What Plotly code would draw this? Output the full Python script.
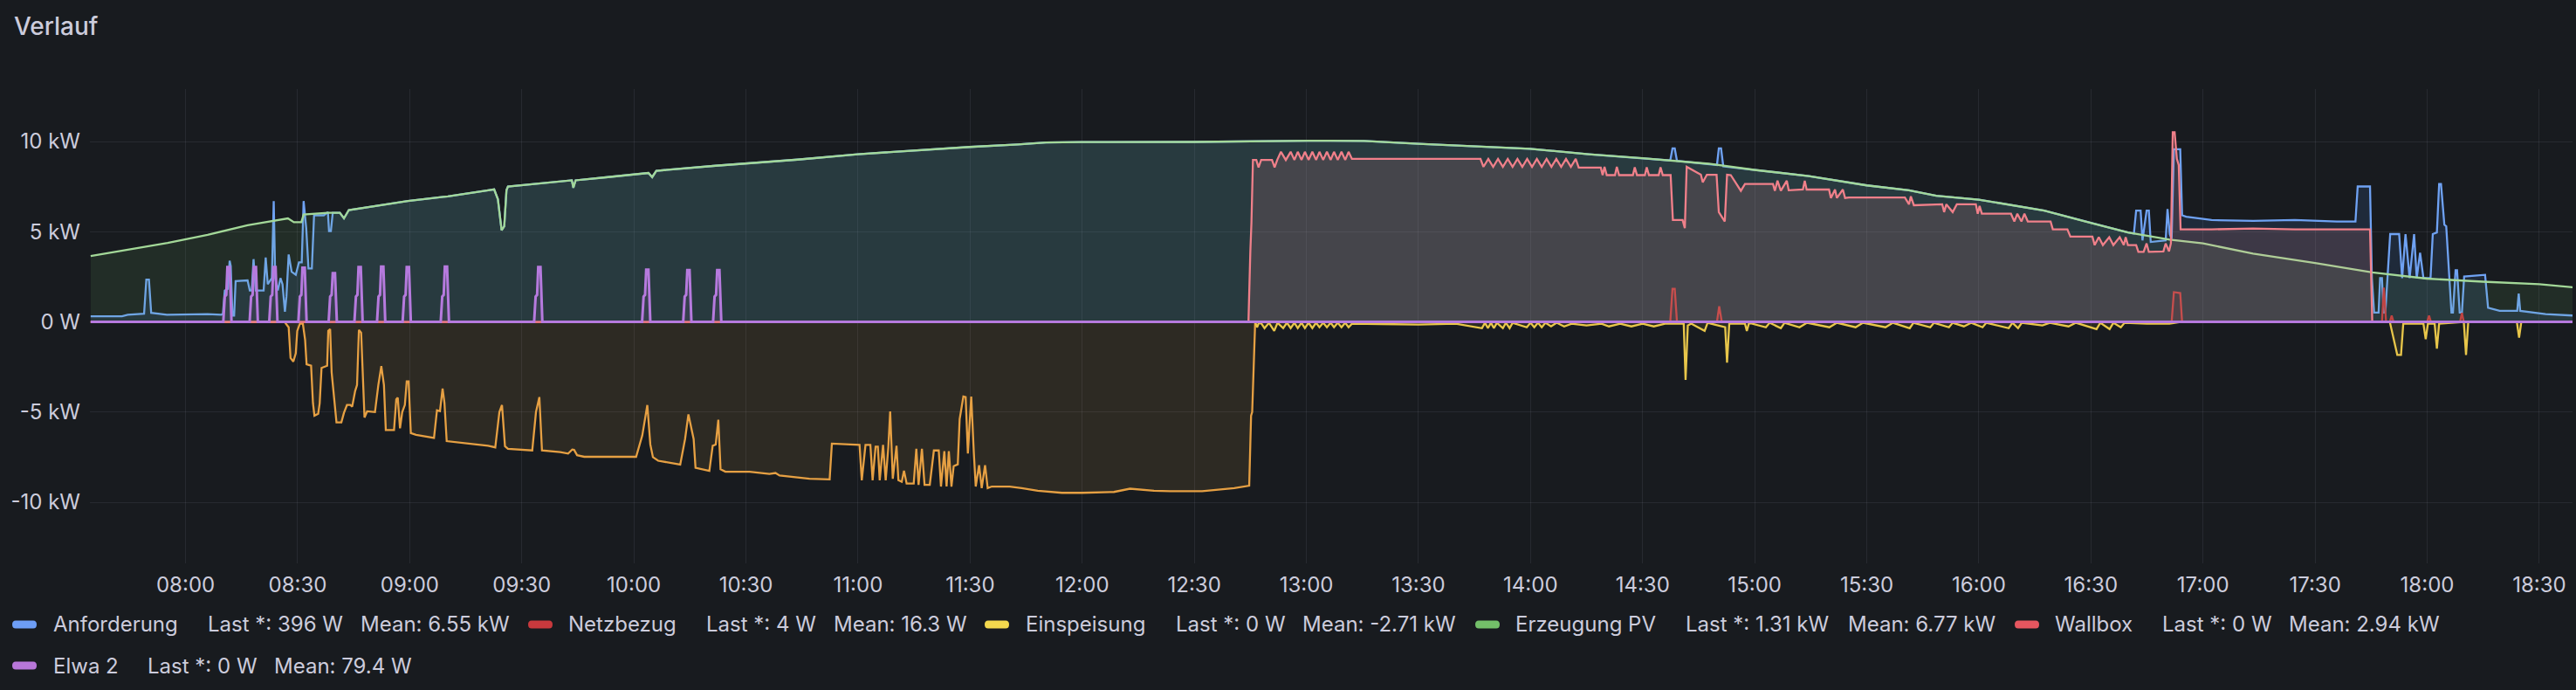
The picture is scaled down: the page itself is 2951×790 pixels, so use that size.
#!/usr/bin/env python
# coding: utf-8

import pandas as pd
import plotly.graph_objects as go

DAY = "2024-06-15"

# every series: (minutes after 08:00, kW)
anforderung = [
    (-25.4, 0.31), (-17.0, 0.31), (-15.5, 0.40), (-11.9, 0.43), (-11.1, 0.45), (-10.5, 2.35),
    (-9.8, 2.35), (-9.2, 0.50), (-5.0, 0.40), (5.9, 0.43), (9.6, 0.40), (10.0, 0.45),
    (10.5, 1.74), (11.3, 1.83), (11.8, 3.39), (12.1, 3.10), (12.55, 0.35), (13.0, 0.35),
    (13.4, 2.26), (16.6, 2.30), (17.2, 1.74), (17.7, 1.74), (18.2, 3.48), (18.8, 1.74),
    (20.9, 1.74), (21.45, 3.57), (22.0, 2.09), (23.1, 2.43), (23.6, 6.70), (24.0, 2.43),
    (24.7, 1.74), (25.4, 2.43), (25.95, 2.09), (26.6, 0.56), (27.0, 1.40), (27.6, 3.74),
    (28.4, 2.78), (29.5, 2.61), (30.35, 3.30), (31.1, 3.30), (31.6, 6.70), (32.3, 5.20),
    (32.9, 2.96), (33.8, 2.96), (34.4, 5.91), (37.0, 5.91), (38.1, 6.09), (38.4, 5.04),
    (38.9, 5.04), (39.4, 6.05), (41.3, 6.05), (42.4, 5.74), (43.7, 6.20), (59.5, 6.70),
    (70.2, 6.96), (81.0, 7.30), (82.6, 7.35), (83.6, 6.80), (84.6, 5.08), (85.3, 5.30),
    (85.9, 7.30), (86.3, 7.51), (102.4, 7.83), (103.4, 7.85), (103.8, 7.44), (104.4, 7.85),
    (113.1, 8.03), (123.9, 8.26), (124.9, 8.03), (126.0, 8.38), (141.9, 8.66), (150.0, 8.78),
    (163.8, 9.00), (179.9, 9.30), (196.0, 9.53), (209.9, 9.70), (222.8, 9.84), (230.3, 9.95),
    (239.7, 9.97), (270.0, 9.98), (300.5, 10.05), (315.5, 10.03), (330.0, 9.88), (343.4, 9.77),
    (359.9, 9.60), (375.6, 9.30), (390.0, 9.08), (397.4, 8.95), (398.0, 9.62), (398.6, 9.62),
    (399.2, 8.93), (407.7, 8.77), (409.9, 8.70), (410.4, 9.62), (411.0, 9.62), (411.6, 8.62),
    (419.9, 8.43), (434.5, 8.09), (450.0, 7.57), (461.3, 7.30), (468.6, 6.99), (480.0, 6.78),
    (497.5, 6.17), (510.1, 5.48), (519.9, 4.96), (521.5, 4.90), (522.1, 6.17), (523.3, 6.17),
    (523.8, 4.52), (524.9, 6.17), (525.5, 6.17), (526.0, 4.43), (530.0, 4.52), (530.5, 6.26),
    (531.1, 4.87), (531.6, 4.60), (532.2, 9.57), (533.9, 9.57), (534.4, 5.91), (535.5, 5.83),
    (542.3, 5.65), (553.4, 5.60), (564.6, 5.65), (575.8, 5.57), (580.8, 5.57), (581.4, 7.51),
    (584.7, 7.51), (585.2, 2.43), (585.8, 0.52), (587.0, 0.52), (587.4, 2.43), (587.9, 2.43),
    (588.3, 0.52), (588.8, 0.52), (589.4, 2.43), (590.1, 4.87), (592.5, 4.87), (593.3, 2.43),
    (594.2, 4.87), (595.3, 2.43), (596.5, 4.87), (597.2, 2.43), (598.1, 3.83), (599.0, 2.43),
    (600.9, 2.43), (601.5, 4.87), (602.6, 4.96), (603.2, 7.65), (603.7, 7.65), (604.6, 5.39),
    (605.1, 5.30), (605.7, 2.96), (606.5, 0.52), (606.9, 0.52), (607.6, 2.87), (608.0, 2.87),
    (608.7, 0.52), (609.3, 0.52), (609.9, 2.52), (615.5, 2.61), (616.3, 0.78), (619.4, 0.61),
    (624.1, 0.61), (624.5, 1.57), (624.9, 0.61), (631.7, 0.43), (639.3, 0.35),
]

netzbezug = [
    (-25.4, 0), (397.4, 0), (398.0, 1.83), (398.6, 1.83), (399.2, 0), (409.9, 0),
    (410.5, 0.87), (411.2, 0), (531.6, 0), (532.2, 1.65), (533.9, 1.60), (534.4, 0),
    (587.9, 0), (588.4, 1.90), (589.0, 0), (590.0, 0), (590.5, 0.35), (591.0, 0),
    (600.0, 0), (600.5, 0.35), (601.0, 0), (608.8, 0), (609.3, 0.50), (609.8, 0), (639.3, 0),
]

einspeisung = [
    (-25.4, 0), (26.5, 0), (27.6, -0.30), (28.1, -2.00), (28.85, -2.20), (29.5, -1.74),
    (29.9, -0.50), (30.6, -0.10), (31.4, -0.10), (32.0, -1.00), (32.4, -2.35), (33.6, -2.43),
    (34.1, -4.50), (34.5, -5.20), (35.5, -5.10), (35.9, -4.52), (36.4, -2.55), (37.9, -2.43),
    (38.2, -0.50), (38.7, -0.40), (39.1, -2.80), (39.8, -4.50), (40.4, -5.57), (41.7, -5.57),
    (42.4, -5.04), (43.2, -4.61), (44.1, -4.61), (44.6, -4.70), (45.4, -3.83), (45.9, -3.50),
    (46.4, -0.45), (47.0, -0.60), (47.5, -3.65), (47.9, -5.30), (48.6, -4.96), (50.7, -5.00),
    (51.6, -3.50), (52.4, -2.45), (53.1, -3.50), (53.6, -6.00), (55.8, -6.00), (56.4, -4.30),
    (56.8, -4.20), (57.4, -5.90), (58.0, -5.00), (58.7, -4.60), (59.2, -3.30), (59.7, -3.30),
    (60.3, -6.17), (61.7, -6.26), (66.5, -6.43), (67.3, -4.90), (68.1, -4.95), (68.8, -3.70),
    (69.3, -4.50), (69.9, -6.61), (81.0, -6.87), (82.9, -6.96), (84.0, -5.00), (84.7, -4.61),
    (85.5, -6.90), (86.3, -7.04), (92.8, -7.13), (93.8, -5.00), (94.7, -4.17), (95.4, -7.13),
    (100.3, -7.22), (102.4, -7.30), (103.5, -7.08), (104.0, -7.10), (104.8, -7.39), (106.7, -7.48),
    (120.6, -7.48), (122.25, -6.30), (123.6, -4.61), (124.4, -6.80), (125.1, -7.50), (126.5, -7.70),
    (132.4, -7.91), (133.3, -6.80), (133.7, -6.50), (134.6, -5.13), (135.4, -6.00), (136.0, -6.50),
    (136.5, -8.09), (140.2, -8.26), (141.1, -6.87), (141.9, -6.80), (142.6, -5.43), (143.2, -8.17),
    (144.5, -8.31), (151.0, -8.31), (156.3, -8.43), (157.9, -8.38), (159.0, -8.52), (167.0, -8.70),
    (172.4, -8.73), (173.0, -6.75), (180.4, -6.82), (181.0, -8.78), (182.0, -6.82), (183.3, -6.82),
    (183.9, -8.78), (184.7, -6.92), (185.3, -6.92), (185.8, -8.78), (186.7, -6.82), (187.4, -8.78),
    (188.1, -6.96), (188.6, -4.96), (189.3, -8.70), (190.3, -6.87), (190.8, -8.78), (191.7, -8.87),
    (192.3, -8.26), (193.0, -8.96), (194.9, -8.96), (195.6, -7.04), (196.2, -9.04), (197.1, -7.04),
    (197.8, -9.04), (199.2, -9.04), (200.3, -7.13), (201.6, -7.13), (202.2, -9.13), (203.1, -7.17),
    (203.7, -9.13), (204.3, -7.17), (205.0, -9.13), (205.6, -8.00), (206.7, -7.90), (207.2, -5.39),
    (208.2, -4.14), (208.8, -4.17), (209.4, -7.30), (210.3, -4.14), (211.0, -7.30), (211.5, -9.13),
    (212.4, -7.95), (213.1, -9.22), (214.0, -7.95), (214.7, -9.22), (215.8, -9.13), (220.6, -9.13),
    (223.8, -9.22), (228.1, -9.36), (234.6, -9.48), (239.9, -9.48), (248.5, -9.43), (252.8, -9.25),
    (259.2, -9.36), (263.5, -9.39), (272.1, -9.39), (276.4, -9.30), (280.7, -9.22), (284.7, -9.08),
    (285.2, -5.20), (285.5, -5.00), (286.3, 0),
    (286.8, -0.30), (287.3, -0.05), (288.0, -0.10), (288.8, -0.35), (290.0, -0.05), (291.4, -0.50),
    (292.3, -0.05), (293.8, -0.35), (294.8, -0.05), (295.8, -0.35), (296.8, -0.05), (297.7, -0.35),
    (298.7, -0.05), (299.6, -0.35), (300.6, -0.05), (301.6, -0.35), (302.6, -0.05), (303.5, -0.30),
    (304.5, -0.05), (305.5, -0.30), (306.5, -0.05), (307.4, -0.30), (308.4, -0.05), (309.4, -0.30),
    (310.4, -0.05), (311.3, -0.30), (312.2, -0.10), (320.0, -0.12), (330.0, -0.15), (340.0, -0.10),
    (347.0, -0.35), (347.8, -0.05), (348.6, -0.35), (349.4, -0.05), (350.2, -0.35), (351.0, -0.05),
    (352.6, -0.35), (353.4, -0.05), (354.4, -0.35), (355.2, -0.05), (359.0, -0.30), (360.0, -0.05),
    (361.0, -0.30), (362.0, -0.05), (363.0, -0.30), (364.0, -0.05), (365.5, -0.25), (367.0, -0.05),
    (369.0, -0.25), (371.0, -0.10), (375.0, -0.20), (379.0, -0.10), (381.0, -0.25), (384.0, -0.10),
    (387.0, -0.25), (390.0, -0.10), (393.0, -0.25), (396.0, -0.10), (401.0, -0.10), (401.5, -3.22),
    (402.1, -0.20), (403.0, -0.10), (406.6, -0.50), (407.4, -0.05), (412.1, -0.30), (412.6, -2.26),
    (413.2, -0.10), (417.4, -0.10), (417.9, -0.50), (418.5, -0.05), (423.0, -0.30), (424.0, -0.05),
    (427.0, -0.35), (428.0, -0.05), (432.0, -0.30), (434.0, -0.05), (440.0, -0.30), (442.0, -0.05),
    (447.0, -0.30), (449.0, -0.05), (455.0, -0.30), (457.0, -0.05), (461.5, -0.35), (462.5, -0.05),
    (467.0, -0.30), (468.0, -0.05), (472.0, -0.30), (473.0, -0.05), (476.0, -0.25), (478.0, -0.05),
    (481.0, -0.30), (482.0, -0.05), (488.0, -0.35), (489.0, -0.05), (490.5, -0.35), (491.5, -0.05),
    (497.0, -0.20), (499.0, -0.05), (504.0, -0.25), (506.0, -0.05), (511.5, -0.40), (512.5, -0.05),
    (515.0, -0.40), (516.0, -0.05), (518.0, -0.30), (519.0, -0.05), (525.0, -0.10), (531.0, -0.10),
    (534.0, 0), (590.0, 0), (591.3, -1.20), (592.0, -1.83), (593.0, -1.83), (593.6, -0.10),
    (599.0, -0.10), (599.6, -0.96), (600.2, -0.10), (602.0, -0.10), (602.6, -1.48), (603.2, -0.10),
    (609.8, 0), (610.4, -1.83), (611.0, 0), (624.0, 0), (624.6, -0.87), (625.2, 0), (639.3, 0),
]
einspeisung_switch = 286.3  # line turns from orange to yellow here

erzeugung_pv = [
    (-25.4, 3.65), (-15.5, 4.00), (-4.8, 4.38), (5.9, 4.83), (16.6, 5.36), (27.4, 5.74),
    (29.0, 5.53), (31.0, 5.53), (31.6, 5.95), (38.1, 6.05), (41.3, 6.05), (42.4, 5.74),
    (43.7, 6.20), (59.5, 6.70), (70.2, 6.96), (81.0, 7.30), (82.6, 7.35), (83.6, 6.80),
    (84.6, 5.08), (85.3, 5.30), (85.9, 7.30), (86.3, 7.51), (102.4, 7.83), (103.4, 7.85),
    (103.8, 7.44), (104.4, 7.85), (113.1, 8.03), (123.9, 8.26), (124.9, 8.03), (126.0, 8.38),
    (141.9, 8.66), (150.0, 8.78), (163.8, 9.00), (179.9, 9.30), (196.0, 9.53), (209.9, 9.70),
    (222.8, 9.84), (230.3, 9.95), (239.7, 9.97), (270.0, 9.98), (300.5, 10.05), (315.5, 10.03),
    (330.0, 9.88), (343.4, 9.77), (359.9, 9.60), (375.6, 9.30), (390.0, 9.08), (407.7, 8.77),
    (419.9, 8.43), (434.5, 8.09), (450.0, 7.57), (461.3, 7.30), (468.6, 6.99), (480.0, 6.78),
    (497.5, 6.17), (510.1, 5.48), (519.9, 4.96), (531.1, 4.56), (540.0, 4.35), (553.4, 3.79),
    (570.0, 3.27), (585.3, 2.75), (599.9, 2.40), (614.9, 2.23), (630.0, 2.09), (639.3, 1.91),
]

wallbox = [
    (-25.4, 0), (284.5, 0), (285.0, 3.89), (285.3, 5.5), (285.7, 8.98), (286.6, 8.98),
    (287.2, 8.57), (287.9, 8.98), (290.8, 8.98), (291.5, 8.57), (292.2, 8.98), (293.2, 9.43),
    (294.5, 8.98), (295.8, 9.43), (296.8, 8.98), (297.7, 9.43), (298.7, 8.98), (299.6, 9.43),
    (300.6, 8.98), (301.6, 9.43), (302.6, 8.98), (303.5, 9.43), (304.5, 8.98), (305.5, 9.43),
    (306.5, 8.98), (307.4, 9.43), (308.4, 8.98), (309.4, 9.43), (310.4, 8.98), (311.3, 9.43),
    (312.2, 9.04), (346.6, 9.04), (347.4, 8.60), (348.7, 9.04), (350.0, 8.60), (351.3, 9.04),
    (352.6, 8.60), (353.9, 9.04), (355.2, 8.60), (356.5, 9.04), (357.8, 8.60), (359.1, 9.04),
    (360.4, 8.60), (361.7, 9.04), (363.0, 8.60), (364.3, 9.04), (365.6, 8.60), (366.9, 9.04),
    (368.2, 8.60), (369.5, 9.04), (370.8, 8.60), (372.1, 9.04), (372.9, 8.56), (378.8, 8.56),
    (379.3, 8.14), (379.8, 8.60), (380.4, 8.14), (382.6, 8.14), (383.1, 8.60), (383.7, 8.14),
    (387.4, 8.14), (387.9, 8.57), (388.5, 8.14), (390.6, 8.14), (391.1, 8.57), (391.7, 8.14),
    (394.3, 8.14), (394.8, 8.57), (395.4, 8.14), (397.5, 8.14), (398.1, 5.65), (400.7, 5.65),
    (401.3, 5.20), (401.8, 8.60), (405.6, 8.16), (406.1, 7.74), (407.2, 8.16), (409.8, 8.16),
    (410.4, 6.09), (412.0, 5.57), (412.6, 8.16), (413.6, 8.14), (416.3, 7.27), (417.4, 7.65),
    (424.9, 7.65), (425.4, 7.27), (426.1, 7.83), (427.0, 7.27), (428.6, 7.83), (429.1, 7.30),
    (432.9, 7.34), (433.4, 7.83), (433.9, 7.34), (439.9, 7.34), (440.4, 6.87), (441.5, 7.34),
    (442.0, 6.87), (443.6, 7.34), (444.2, 6.87), (445.2, 6.90), (460.2, 6.90), (461.3, 6.52),
    (461.8, 6.96), (462.6, 6.47), (470.2, 6.52), (470.7, 6.09), (471.3, 6.52), (473.0, 6.09),
    (474.1, 6.52), (479.2, 6.52), (479.7, 6.00), (480.2, 6.43), (480.8, 6.00), (488.6, 6.00),
    (489.5, 5.57), (490.3, 6.00), (491.4, 5.57), (492.2, 6.00), (493.1, 5.57), (499.2, 5.57),
    (499.8, 5.13), (503.7, 5.13), (504.5, 4.73), (510.4, 4.73), (511.0, 4.26), (512.1, 4.70),
    (513.2, 4.26), (514.9, 4.70), (516.0, 4.26), (517.7, 4.70), (518.8, 4.26), (519.3, 4.70),
    (519.9, 4.26), (522.1, 4.26), (522.7, 3.88), (524.1, 3.88), (524.9, 4.35), (525.5, 3.88),
    (529.4, 3.91), (530.0, 4.35), (530.9, 3.91), (531.4, 4.35), (531.9, 10.52), (532.4, 10.52),
    (533.0, 9.04), (533.5, 8.70), (534.0, 5.13), (542.3, 5.13), (553.4, 5.18), (564.6, 5.13),
    (584.7, 5.13), (585.3, 0), (639.3, 0),
]

elwa_2 = [
    (-25.4, 0),
    (10.1, 0), (10.5, 1.4), (10.9, 1.5), (11.2, 3.04), (11.8, 3.04), (12.3, 0),
    (17.15, 0), (17.55, 1.4), (17.95, 1.5), (18.25, 3.04), (18.85, 3.04), (19.35, 0),
    (22.4, 0), (22.8, 1.4), (23.2, 1.5), (23.5, 3.04), (24.1, 3.04), (24.6, 0),
    (30.2, 0), (30.6, 1.4), (31.0, 1.5), (31.3, 3.00), (31.9, 3.00), (32.4, 0),
    (38.3, 0), (38.7, 1.4), (39.1, 1.5), (39.4, 2.70), (40.0, 2.70), (40.5, 0),
    (45.2, 0), (45.6, 1.4), (46.0, 1.5), (46.3, 3.04), (46.9, 3.04), (47.4, 0),
    (51.25, 0), (51.65, 1.4), (52.05, 1.5), (52.35, 3.07), (52.95, 3.07), (53.45, 0),
    (58.1, 0), (58.5, 1.4), (58.9, 1.5), (59.2, 3.04), (59.8, 3.04), (60.3, 0),
    (68.3, 0), (68.7, 1.4), (69.1, 1.5), (69.4, 3.07), (70.0, 3.07), (70.5, 0),
    (93.3, 0), (93.7, 1.4), (94.1, 1.5), (94.4, 3.04), (95.0, 3.04), (95.5, 0),
    (122.2, 0), (122.6, 1.4), (123.0, 1.5), (123.3, 2.90), (123.9, 2.90), (124.4, 0),
    (133.2, 0), (133.6, 1.4), (134.0, 1.5), (134.3, 2.87), (134.9, 2.87), (135.4, 0),
    (141.2, 0), (141.6, 1.4), (142.0, 1.5), (142.3, 2.87), (142.9, 2.87), (143.4, 0),
    (639.3, 0),
]

legend_names = ["Anforderung", "Netzbezug", "Einspeisung", "Erzeugung PV", "Wallbox", "Elwa 2"]
legend_last = ["396 W", "4 W", "0 W", "1.31 kW", "0 W", "0 W"]
legend_mean = ["6.55 kW", "16.3 W", "-2.71 kW", "6.77 kW", "2.94 kW", "79.4 W"]

y_ticks = [-10, -5, 0, 5, 10]
y_tick_text = ["-10 kW", "-5 kW", "0 W", "5 kW", "10 kW"]

# ---- styling ----
BG = "#181b1f"
TEXT = "#ccccdc"
FONT = "Inter"
W, H = 2951, 790
L, R, T, B = 103, 4, 102, 145

line_colors = {
    "Anforderung": "#6fa2f3",
    "Netzbezug": "#c8353d",
    "Einspeisung": "#e6a043",
    "Einspeisung2": "#e8c64a",
    "Erzeugung PV": "#a3d898",
    "Wallbox": "#f0808a",
    "Elwa 2": "#b67ade",
}
line_widths = {"Elwa 2": 3}
fill_colors = {
    "Anforderung": "rgba(87,148,242,0.13)",
    "Netzbezug": "rgba(196,22,42,0.10)",
    "Einspeisung": "rgba(240,175,80,0.10)",
    "Einspeisung2": "rgba(240,200,80,0.10)",
    "Erzeugung PV": "rgba(115,191,105,0.11)",
    "Wallbox": "rgba(250,140,148,0.14)",
    "Elwa 2": "rgba(184,119,217,0.10)",
}
swatch_colors = ["#6d9ef6", "#c8393d", "#f3d84e", "#73bf69", "#e5565f", "#b877d9"]

# legend item positions in page pixels: swatch x, name x, last x, mean x, row y
legend_pos = [
    (14, 59, 236, 411, 715),
    (605, 649, 807, 953, 715),
    (1128, 1173, 1345, 1490, 715),
    (1690, 1734, 1929, 2115, 715),
    (2308, 2352, 2475, 2620, 715),
    (14, 59, 167, 312, 762),
]


def to_frame(pairs):
    df = pd.DataFrame(pairs, columns=["min", "kw"])
    df["time"] = pd.Timestamp(f"{DAY} 08:00") + pd.to_timedelta(df["min"], unit="min")
    return df


def px_x(px):
    return (px - L) / (W - L - R)


def px_y(py):
    return (H - B - py) / (H - T - B)


def add_series(fig, df, key, name):
    fig.add_trace(go.Scatter(
        x=df["time"], y=df["kw"], name=name, mode="lines",
        line=dict(color=line_colors[key], width=line_widths.get(key, 2.3)),
        fill="tozeroy", fillcolor=fill_colors[key],
        showlegend=False,
    ))


def main():
    fig = go.Figure()

    add_series(fig, to_frame(anforderung), "Anforderung", "Anforderung")
    add_series(fig, to_frame(netzbezug), "Netzbezug", "Netzbezug")

    es = to_frame(einspeisung)
    add_series(fig, es[es["min"] <= einspeisung_switch], "Einspeisung", "Einspeisung")
    add_series(fig, es[es["min"] >= einspeisung_switch], "Einspeisung2", "Einspeisung")

    add_series(fig, to_frame(erzeugung_pv), "Erzeugung PV", "Erzeugung PV")
    add_series(fig, to_frame(wallbox), "Wallbox", "Wallbox")
    add_series(fig, to_frame(elwa_2), "Elwa 2", "Elwa 2")

    t0 = pd.Timestamp(f"{DAY} 08:00")
    x_range = [t0 - pd.Timedelta(minutes=25.6), t0 + pd.Timedelta(minutes=638.9)]

    grid = "rgba(204,204,220,0.09)"
    fig.update_xaxes(
        type="date", range=x_range, tickformat="%H:%M",
        tick0=t0, dtick=30 * 60 * 1000,
        showgrid=True, gridcolor=grid, gridwidth=1, zeroline=False,
        showline=False, ticks="", ticklabelstandoff=8,
        tickfont=dict(family=FONT, size=24, color=TEXT),
    )
    fig.update_yaxes(
        range=[-13.39, 12.91], tickvals=y_ticks, ticktext=y_tick_text,
        showgrid=True, gridcolor=grid, gridwidth=1, zeroline=False,
        showline=False, ticks="", ticklabelstandoff=10,
        tickfont=dict(family=FONT, size=24, color=TEXT),
    )

    annotations = [dict(
        text="Verlauf", x=px_x(14), y=px_y(30), xref="paper", yref="paper",
        xanchor="left", yanchor="middle", showarrow=False,
        font=dict(family=FONT, size=28, color=TEXT, weight=500),
    )]
    shapes = []
    for i, name in enumerate(legend_names):
        sx, nx, lx, mx, ry = legend_pos[i]
        for text, tx in ((name, nx), (f"Last *: {legend_last[i]}", lx), (f"Mean: {legend_mean[i]}", mx)):
            annotations.append(dict(
                text=text, x=px_x(tx), y=px_y(ry), xref="paper", yref="paper",
                xanchor="left", yanchor="middle", showarrow=False,
                font=dict(family=FONT, size=24, color=TEXT),
            ))
        shapes.append(dict(
            type="path", xref="paper", yref="paper",
            xsizemode="pixel", ysizemode="pixel",
            xanchor=px_x(sx), yanchor=px_y(ry),
            path="M 4,4.5 L 24,4.5 Q 28,4.5 28,0 Q 28,-4.5 24,-4.5 L 4,-4.5 Q 0,-4.5 0,0 Q 0,4.5 4,4.5 Z",
            fillcolor=swatch_colors[i], line=dict(width=0),
        ))

    fig.update_layout(
        width=W, height=H,
        margin=dict(l=L, r=R, t=T, b=B),
        paper_bgcolor=BG, plot_bgcolor=BG,
        showlegend=False,
        annotations=annotations, shapes=shapes,
        font=dict(family=FONT, color=TEXT),
    )

    # drop the browser's default page margin so the panel fills the window
    fig.write_html(
        "out.html",
        config={"displayModeBar": False},
        post_script="document.body.style.margin='0';document.body.style.background='%s';" % BG,
    )


if __name__ == "__main__":
    main()
